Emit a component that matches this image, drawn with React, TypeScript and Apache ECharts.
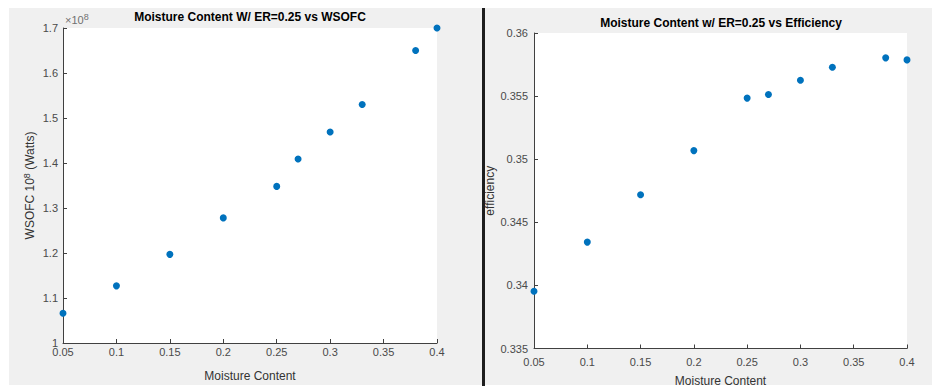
import React, { useEffect, useRef } from "react";
import * as echarts from "echarts";

const moisture = [0.05, 0.1, 0.15, 0.2, 0.25, 0.27, 0.3, 0.33, 0.38, 0.4];
const wsofcWatts = [1.066e8, 1.127e8, 1.197e8, 1.278e8, 1.348e8, 1.409e8, 1.469e8, 1.53e8, 1.65e8, 1.7e8];
const efficiency = [0.33953, 0.34343, 0.34718, 0.35068, 0.35484, 0.35513, 0.35625, 0.35728, 0.35803, 0.35787];

const xRange = { min: 0.05, max: 0.4, interval: 0.05 };
const wsofcRange = { min: 1.0e8, max: 1.7e8, interval: 0.1e8 };
const effRange = { min: 0.335, max: 0.36, interval: 0.005 };

const FONT = "'Liberation Sans', Arial, Helvetica, sans-serif";
const AX = "#404040";
const LBL = "#4a4a4a";
const DOT = "#0072BD";

const fmt = (v: number) => String(parseFloat(v.toFixed(4)));

function xAxis(gridIndex: number, margin: number, nameGap: number) {
  return {
    type: "value",
    gridIndex,
    min: xRange.min,
    max: xRange.max,
    interval: xRange.interval,
    name: "Moisture Content",
    nameLocation: "middle",
    nameGap,
    nameTextStyle: { fontFamily: FONT, fontSize: 12, color: "#333" },
    axisLine: { show: true, onZero: false, lineStyle: { color: AX, width: 1 } },
    axisTick: { show: true, inside: true, length: 4, lineStyle: { color: AX } },
    axisLabel: { fontFamily: FONT, fontSize: 11, color: LBL, margin, formatter: fmt },
    splitLine: { show: false },
  };
}

export default function App() {
  const ref = useRef<HTMLDivElement>(null);
  useEffect(() => {
    if (!ref.current) return;
    const chart = echarts.init(ref.current, undefined, { renderer: "svg" });
    chart.setOption({
      animation: false,
      backgroundColor: "#f0f0f0",
      title: [
        {
          text: "Moisture Content W/ ER=0.25 vs WSOFC",
          left: 250,
          top: 11,
          padding: 0,
          textAlign: "center",
          textStyle: { fontFamily: FONT, fontSize: 12, fontWeight: "bold", color: "#000" },
        },
        {
          text: "Moisture Content w/ ER=0.25 vs Efficiency",
          left: 721,
          top: 17,
          padding: 0,
          textAlign: "center",
          textStyle: { fontFamily: FONT, fontSize: 12, fontWeight: "bold", color: "#000" },
        },
      ],
      graphic: [
        { type: "rect", shape: { x: 0, y: 0, width: 932, height: 8 }, style: { fill: "#fff" } },
        { type: "rect", shape: { x: 0, y: 0, width: 9, height: 386 }, style: { fill: "#fff" } },
        { type: "rect", shape: { x: 0, y: 385, width: 932, height: 1 }, style: { fill: "#fff" } },
        { type: "rect", shape: { x: 482, y: 8, width: 3, height: 378 }, style: { fill: "#1e1e1e" } },
        {
          type: "text",
          x: 65,
          y: 12,
          style: {
            text: "×10{s|8}",
            fontFamily: FONT,
            fontSize: 11,
            fill: "#707070",
            verticalAlign: "top",
            rich: { s: { fontFamily: FONT, fontSize: 9, fill: "#707070", verticalAlign: "top", padding: [0, 0, 7, 0] } },
          },
        },
      ],
      grid: [
        { left: 63, top: 28, width: 374, height: 315, outerBoundsMode: "none", show: true, backgroundColor: "#fff", borderWidth: 0 },
        { left: 534, top: 33, width: 373, height: 315.5, outerBoundsMode: "none", show: true, backgroundColor: "#fff", borderWidth: 0 },
      ],
      xAxis: [xAxis(0, 3, 27), xAxis(1, 8, 26)],
      yAxis: [
        {
          type: "value",
          gridIndex: 0,
          min: wsofcRange.min,
          max: wsofcRange.max,
          interval: wsofcRange.interval,
          name: "WSOFC 10{s|8} (Watts)",
          nameLocation: "middle",
          nameGap: 25,
          nameRotate: 90,
          nameTextStyle: {
            fontFamily: FONT,
            fontSize: 12,
            color: "#333",
            rich: { s: { fontFamily: FONT, fontSize: 9, color: "#333", verticalAlign: "top", padding: [0, 0, 7, 0] } },
          },
          axisLine: { show: true, onZero: false, lineStyle: { color: AX, width: 1 } },
          axisTick: { show: true, inside: true, length: 4, lineStyle: { color: AX } },
          axisLabel: { fontFamily: FONT, fontSize: 11, color: LBL, margin: 5, formatter: (v: number) => fmt(v / 1e8) },
          splitLine: { show: false },
        },
        {
          type: "value",
          gridIndex: 1,
          min: effRange.min,
          max: effRange.max,
          interval: effRange.interval,
          name: "efficiency",
          nameLocation: "middle",
          nameGap: 38,
          nameRotate: 90,
          nameTextStyle: { fontFamily: FONT, fontSize: 12, color: "#333" },
          axisLine: { show: true, onZero: false, lineStyle: { color: AX, width: 1 } },
          axisTick: { show: true, inside: true, length: 4, lineStyle: { color: AX } },
          axisLabel: { fontFamily: FONT, fontSize: 11, color: LBL, margin: 6, formatter: fmt },
          splitLine: { show: false },
        },
      ],
      series: [
        {
          type: "scatter",
          xAxisIndex: 0,
          yAxisIndex: 0,
          symbol: "circle",
          symbolSize: 7,
          itemStyle: { color: DOT, opacity: 1 },
          clip: false,
          data: moisture.map((m, i) => [m, wsofcWatts[i]]),
        },
        {
          type: "scatter",
          xAxisIndex: 1,
          yAxisIndex: 1,
          symbol: "circle",
          symbolSize: 7,
          itemStyle: { color: DOT, opacity: 1 },
          clip: false,
          data: moisture.map((m, i) => [m, efficiency[i]]),
        },
      ],
    });
    return () => chart.dispose();
  }, []);
  return <div ref={ref} style={{ position: "fixed", left: 0, top: 0, width: 932, height: 386 }} />;
}
